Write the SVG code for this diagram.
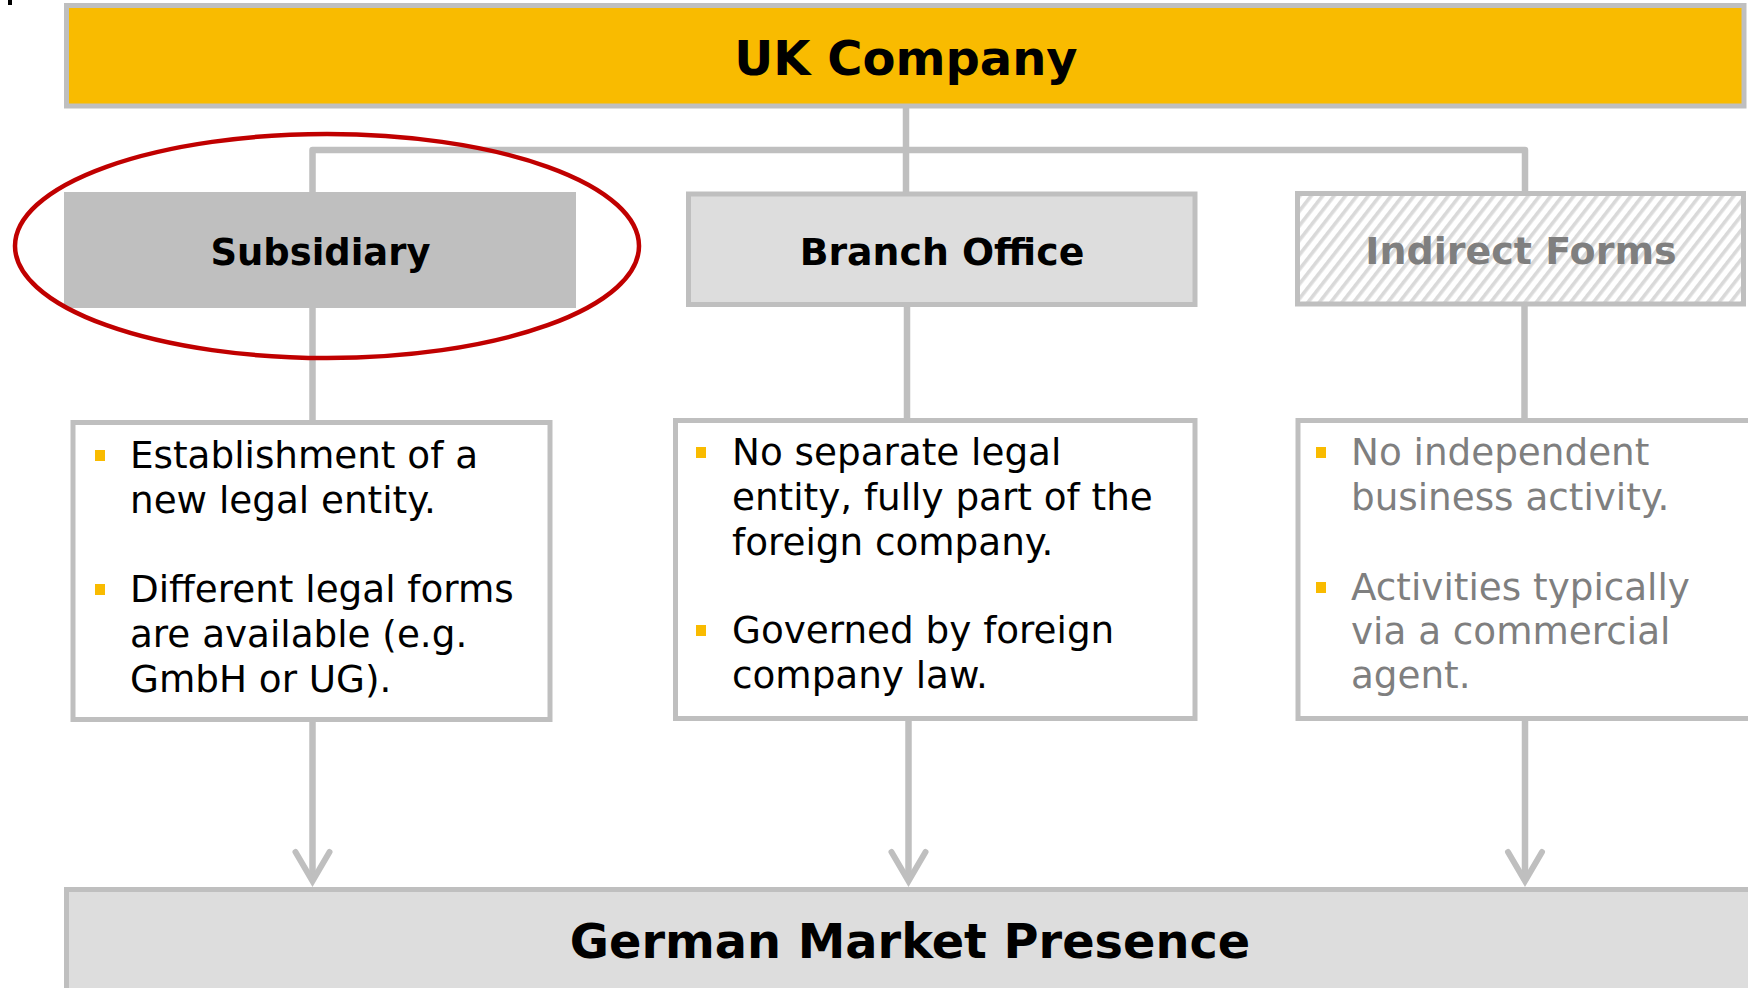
<svg xmlns="http://www.w3.org/2000/svg" width="1748" height="988" viewBox="0 0 1748 988">
  <defs>
    <style>
      .box { stroke: #BFBFBF; stroke-width: 5; }
      .head { font-family: "DejaVu Sans", Verdana, sans-serif; font-weight: bold; text-anchor: middle; fill: #000000; }
      .body { font-family: "DejaVu Sans", Verdana, sans-serif; font-size: 37.3px; fill: #000000; }
      .muted { fill: #7F7F7F; }
      .bullet { fill: #F9BB00; }
      .wire { fill: none; stroke: #BFBFBF; stroke-width: 6.5; stroke-linejoin: round; }
    </style>
    <pattern id="hatch" width="9" height="9" patternUnits="userSpaceOnUse" patternTransform="rotate(38)">
      <rect width="9" height="9" fill="#FFFFFF"/>
      <rect x="0" y="0" width="3.6" height="9" fill="#D9D9D9"/>
    </pattern>
    <marker id="vhead" markerUnits="userSpaceOnUse" viewBox="-40 -24 46 48" refX="0" refY="0" markerWidth="46" markerHeight="48" orient="auto">
      <path d="M-29,-17 L0,0 L-29,17" fill="none" stroke="#BFBFBF" stroke-width="6" stroke-linecap="round" stroke-linejoin="miter"/>
    </marker>
  </defs>

  <rect x="0" y="0" width="1748" height="988" fill="#FFFFFF"/>
  <rect x="8" y="0" width="4" height="5" fill="#000000"/>

  <!-- connectors -->
  <g id="connectors">
    <path class="wire" d="M906,106 L906,194"/>
    <path class="wire" d="M312.5,194 L312.5,150 L1525,150 L1525,194"/>
    <line class="wire" x1="312.5" y1="306" x2="312.5" y2="422"/>
    <line class="wire" x1="907" y1="305" x2="907" y2="420"/>
    <line class="wire" x1="1524.5" y1="305" x2="1524.5" y2="420"/>
    <line class="wire" x1="312.5" y1="720" x2="312.5" y2="881" marker-end="url(#vhead)"/>
    <line class="wire" x1="908.5" y1="719" x2="908.5" y2="881" marker-end="url(#vhead)"/>
    <line class="wire" x1="1525" y1="719" x2="1525" y2="881" marker-end="url(#vhead)"/>
  </g>

  <g id="uk-company">
    <rect class="box" x="66.5" y="5.5" width="1677.5" height="100.5" fill="#F9BB00"/>
    <text class="head" x="906" y="75" font-size="48">UK Company</text>
  </g>

  <g id="subsidiary">
    <rect x="64" y="192" width="512" height="116" fill="#BFBFBF"/>
    <text class="head" x="320.5" y="265" font-size="37.5" textLength="220" lengthAdjust="spacingAndGlyphs">Subsidiary</text>
  </g>

  <g id="branch-office">
    <rect class="box" x="688.5" y="194" width="506.5" height="110.5" fill="#DDDDDD"/>
    <text class="head" x="942" y="265" font-size="37.8">Branch Office</text>
  </g>

  <g id="indirect-forms">
    <rect class="box" x="1297.5" y="193.5" width="446" height="110.5" fill="url(#hatch)"/>
    <text class="head" x="1521" y="264" font-size="38" style="fill:#7F7F7F">Indirect Forms</text>
  </g>

  <!-- highlight ring round the subsidiary option -->
  <ellipse id="highlight" cx="327" cy="246" rx="312" ry="112" fill="none" stroke="#C00000" stroke-width="4.5"/>

  <g id="subsidiary-details">
    <rect class="box" x="73" y="422.5" width="477" height="297" fill="#FFFFFF"/>
    <rect class="bullet" x="95" y="450" width="10" height="11"/>
    <rect class="bullet" x="95" y="584" width="10" height="11"/>
    <text class="body">
      <tspan x="130" y="468">Establishment of a</tspan>
      <tspan x="130" y="513">new legal entity.</tspan>
      <tspan x="130" y="602">Different legal forms</tspan>
      <tspan x="130" y="647">are available (e.g.</tspan>
      <tspan x="130" y="692">GmbH or UG).</tspan>
    </text>
  </g>

  <g id="branch-details">
    <rect class="box" x="675.5" y="420.5" width="519.5" height="298" fill="#FFFFFF"/>
    <rect class="bullet" x="696" y="447" width="10" height="11"/>
    <rect class="bullet" x="696" y="625" width="10" height="11"/>
    <text class="body">
      <tspan x="732" y="465">No separate legal</tspan>
      <tspan x="732" y="510">entity, fully part of the</tspan>
      <tspan x="732" y="555">foreign company.</tspan>
      <tspan x="732" y="643">Governed by foreign</tspan>
      <tspan x="732" y="688">company law.</tspan>
    </text>
  </g>

  <g id="indirect-details">
    <rect class="box" x="1298" y="420.5" width="470" height="298" fill="#FFFFFF"/>
    <rect class="bullet" x="1316" y="447" width="10" height="11"/>
    <rect class="bullet" x="1316" y="582" width="10" height="11"/>
    <text class="body muted">
      <tspan x="1351" y="465">No independent</tspan>
      <tspan x="1351" y="510">business activity.</tspan>
      <tspan x="1351" y="600">Activities typically</tspan>
      <tspan x="1351" y="644">via a commercial</tspan>
      <tspan x="1351" y="688">agent.</tspan>
    </text>
  </g>

  <g id="german-market-presence">
    <rect class="box" x="66.5" y="889.5" width="1700" height="200" fill="#DDDDDD"/>
    <text class="head" x="910" y="958" font-size="47.8">German Market Presence</text>
  </g>
</svg>
